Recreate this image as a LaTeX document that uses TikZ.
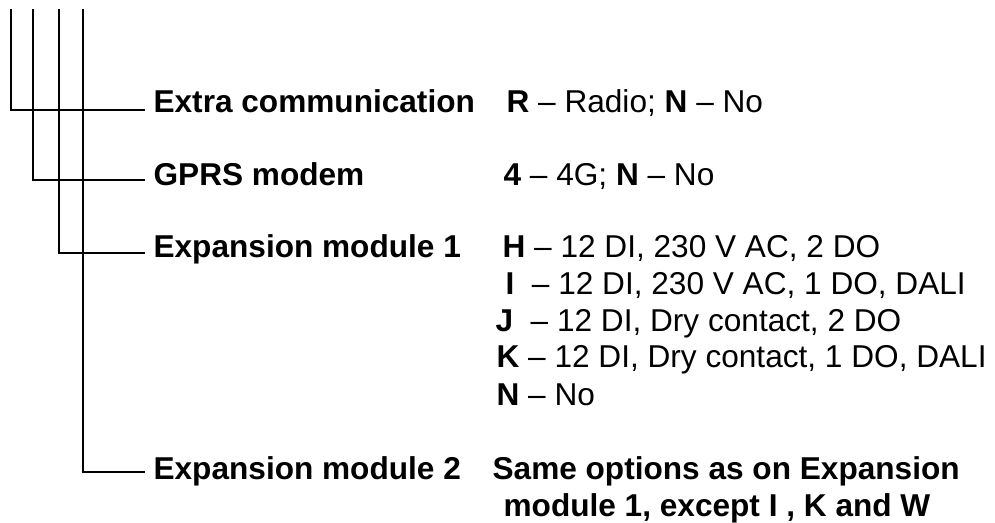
\documentclass[tikz,border=0pt]{standalone}
\usepackage{fontspec}
\setmainfont{Liberation Sans}
\usetikzlibrary{calc}
\begin{document}
\begin{tikzpicture}[x=0.5pt, y=-0.5pt, line width=0.6pt,
    lab/.style={anchor=base west, inner sep=0pt, font=\fontsize{15.8}{18.5}\selectfont\bfseries},
    opt/.style={anchor=base west, inner sep=0pt, font=\fontsize{15.8}{18.5}\selectfont}]
    \useasboundingbox (0,0) rectangle (995,523);
    % tops of the four branches
    \coordinate (t1) at (11,9);
    \coordinate (t2) at (33,9);
    \coordinate (t3) at (59,9);
    \coordinate (t4) at (83,9);
    % labels and options
    \node [lab] (extra) at (153,113) {Extra communication};
    \node [opt] (radio) at (506,113) {\textbf{R} -- Radio; \textbf{N} -- No};
    \node [lab] (gprs) at (153,186) {GPRS modem};
    \node [opt] (fourg) at (503,186) {\textbf{4} -- 4G; \textbf{N} -- No};
    \node [lab] (exp1) at (153,258) {Expansion module 1};
    \node [opt] (optH) at (502,258) {\textbf{H} -- 12 DI, 230 V AC, 2 DO};
    \node [opt] (optI) at (505,295) {\textbf{I}\ \ -- 12 DI, 230 V AC, 1 DO, DALI};
    \node [opt] (optJ) at (495,332) {\textbf{J}\ \ -- 12 DI, Dry contact, 2 DO};
    \node [opt] (optK) at (496,368) {\textbf{K} -- 12 DI, Dry contact, 1 DO, DALI};
    \node [opt] (optN) at (496,405) {\textbf{N} -- No};
    \node [lab] (exp2) at (153,479) {Expansion module 2};
    \node [lab] (same) at (492,479) {Same options as on Expansion};
    \node [lab] (same2) at (503,516) {module 1, except I , K and W};
    % branches
    \draw (t1) |- ($(extra.base west)+(-8,-3)$);
    \draw (t2) |- ($(gprs.base west)+(-8,-6)$);
    \draw (t3) |- ($(exp1.base west)+(-8,-5)$);
    \draw (t4) |- ($(exp2.base west)+(-8,-7)$);
\end{tikzpicture}
\end{document}
